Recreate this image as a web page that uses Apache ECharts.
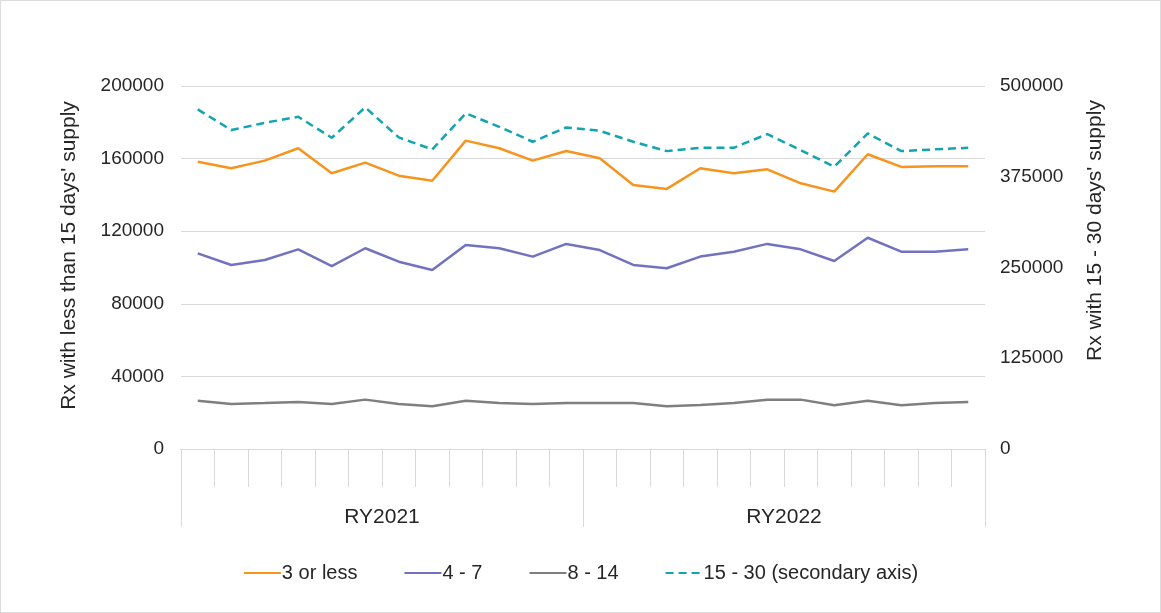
<!DOCTYPE html>
<html>
<head>
<meta charset="utf-8">
<script src="https://cdn.jsdelivr.net/npm/echarts@6/dist/echarts.min.js"></script>
<style>
  html, body { margin: 0; padding: 0; background: #fff; }
  #chart { width: 1161px; height: 613px; box-sizing: border-box; border: 1px solid #dcdcdc; }
</style>
</head>
<body>
<div id="chart"></div>
<script>
// months of each reporting year (labels not shown on the chart)
const periods = [
  'RY2021-01', 'RY2021-02', 'RY2021-03', 'RY2021-04', 'RY2021-05', 'RY2021-06',
  'RY2021-07', 'RY2021-08', 'RY2021-09', 'RY2021-10', 'RY2021-11', 'RY2021-12',
  'RY2022-01', 'RY2022-02', 'RY2022-03', 'RY2022-04', 'RY2022-05', 'RY2022-06',
  'RY2022-07', 'RY2022-08', 'RY2022-09', 'RY2022-10', 'RY2022-11', 'RY2022-12'
]
const years = ['RY2021', 'RY2022']

const threeOrLess = [
  158300, 154700, 158900, 165700, 151900, 157800, 150600, 147800, 169900, 165700, 158900, 164200,
  160200, 145500, 143300, 154700, 151900, 154100, 146400, 141800, 162400, 155400, 155800, 155800
]
const fourToSeven = [
  107800, 101400, 104100, 110000, 100800, 110600, 103200, 98600, 112400, 110600, 106000, 113000,
  109600, 101400, 99600, 106000, 108700, 113000, 110000, 103600, 116400, 108700, 108700, 110000
]
const eightToFourteen = [
  26600, 24800, 25300, 25900, 24800, 27200, 24800, 23500, 26600, 25300, 24800, 25300,
  25300, 25300, 23500, 24200, 25300, 27200, 27200, 24100, 26600, 24100, 25300, 25900
]
// secondary axis
const fifteenToThirty = [
  467800, 439300, 449300, 457600, 428700, 470500, 429200, 412700, 462300, 443800, 423200, 443000,
  438300, 423200, 410300, 414900, 414900, 433800, 411700, 388700, 434700, 410300, 412700, 414900
]

const font = "'Liberation Sans', Arial, sans-serif"
const txt = '#262626'
const axisGrey = '#d9d9d9'

const chart = echarts.init(document.getElementById('chart'))

chart.setOption({
  animation: false,
  textStyle: { fontFamily: font },
  grid: { left: 180, right: 175, top: 85, bottom: 163 },
  legend: {
    bottom: 24,
    left: 'center',
    itemWidth: 37,
    itemHeight: 3,
    itemGap: 46,
    itemStyle: { opacity: 0 },
    textStyle: { fontSize: 20, color: txt, fontFamily: font, padding: [0, 0, 0, -4] },
    data: ['3 or less', '4 - 7', '8 - 14', '15 - 30 (secondary axis)']
  },
  xAxis: [
    {
      type: 'category',
      data: periods,
      boundaryGap: true,
      axisLine: { show: true, lineStyle: { color: axisGrey } },
      axisTick: { show: true, interval: 0, length: 38, lineStyle: { color: axisGrey } },
      axisLabel: { show: false }
    },
    {
      type: 'category',
      data: years,
      position: 'bottom',
      boundaryGap: true,
      axisLine: { show: true, lineStyle: { color: axisGrey } },
      axisTick: { show: true, interval: 0, length: 78, lineStyle: { color: axisGrey } },
      axisLabel: { margin: 58, fontSize: 21, color: txt, fontFamily: font }
    }
  ],
  yAxis: [
    {
      type: 'value',
      min: 0,
      max: 200000,
      interval: 40000,
      name: "Rx with less than 15 days' supply",
      nameLocation: 'middle',
      nameRotate: 90,
      nameGap: 101,
      nameTextStyle: { fontSize: 21, color: txt, fontFamily: font, padding: [0, 0, 0, 24] },
      axisLine: { show: false },
      axisTick: { show: false },
      axisLabel: { fontSize: 19, color: txt, margin: 17, fontFamily: font, formatter: v => String(v) },
      splitLine: { lineStyle: { color: axisGrey } }
    },
    {
      type: 'value',
      min: 0,
      max: 500000,
      interval: 125000,
      name: "Rx with 15 - 30 days' supply",
      nameLocation: 'middle',
      nameRotate: 90,
      nameGap: 100,
      nameTextStyle: { fontSize: 21, color: txt, fontFamily: font, padding: [0, 0, 0, 74] },
      axisLine: { show: false },
      axisTick: { show: false },
      axisLabel: { fontSize: 19, color: txt, margin: 15, fontFamily: font, formatter: v => String(v) },
      splitLine: { show: false }
    }
  ],
  series: [
    {
      name: '3 or less',
      type: 'line',
      data: threeOrLess,
      symbol: 'none',
      lineStyle: { color: '#F7941E', width: 2.5 },
      itemStyle: { color: '#F7941E' }
    },
    {
      name: '4 - 7',
      type: 'line',
      data: fourToSeven,
      symbol: 'none',
      lineStyle: { color: '#7272C1', width: 2.5 },
      itemStyle: { color: '#7272C1' }
    },
    {
      name: '8 - 14',
      type: 'line',
      data: eightToFourteen,
      symbol: 'none',
      lineStyle: { color: '#7f7f7f', width: 2.5 },
      itemStyle: { color: '#7f7f7f' }
    },
    {
      name: '15 - 30 (secondary axis)',
      type: 'line',
      yAxisIndex: 1,
      data: fifteenToThirty,
      symbol: 'none',
      lineStyle: { color: '#12A4AF', width: 2.5, type: [8, 5] },
      itemStyle: { color: '#12A4AF' }
    }
  ]
})
</script>
</body>
</html>
